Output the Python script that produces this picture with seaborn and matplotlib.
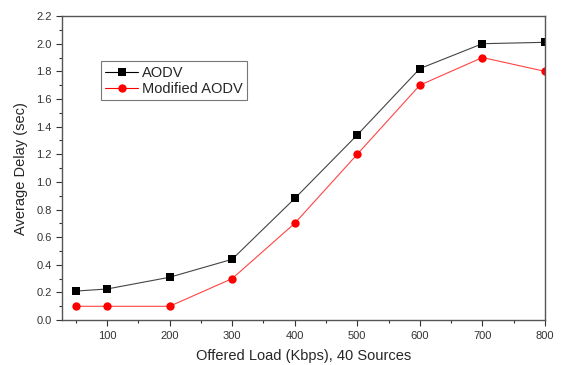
import matplotlib
matplotlib.use("Agg")
import matplotlib.pyplot as plt
import seaborn as sns
import pandas as pd
from matplotlib.ticker import MultipleLocator

load = [50, 100, 200, 300, 400, 500, 600, 700, 800]
aodv = [0.21, 0.225, 0.31, 0.44, 0.88, 1.34, 1.82, 2.0, 2.01]
mod_aodv = [0.1, 0.1, 0.1, 0.3, 0.7, 1.2, 1.7, 1.9, 1.8]

sns.set_theme(style="ticks")
plt.rcParams['font.family'] = ['Liberation Sans', 'DejaVu Sans']

df = pd.DataFrame({
    "load": load * 2,
    "delay": aodv + mod_aodv,
    "series": ["AODV"] * len(load) + ["Modified AODV"] * len(load),
})

fig = plt.figure(figsize=(5.63, 3.65), dpi=100)
ax = fig.add_axes([0.110, 0.123, 0.858, 0.833])

sns.lineplot(data=df, x="load", y="delay", hue="series", style="series",
             palette={"AODV": "black", "Modified AODV": "red"},
             markers={"AODV": "s", "Modified AODV": "o"},
             dashes=False, linewidth=0.8, markersize=6,
             markeredgewidth=0, ax=ax)
for ln, c in zip(ax.lines, ["#444444", "#ff4444"]):
    ln.set_color(c)
    ln.set_markerfacecolor("black" if c == "#444444" else "red")

ax.set_xlim(28, 800)
ax.set_ylim(0, 2.2)
ax.xaxis.set_major_locator(MultipleLocator(100))
ax.xaxis.set_minor_locator(MultipleLocator(50))
ax.yaxis.set_major_locator(MultipleLocator(0.2))
ax.yaxis.set_minor_locator(MultipleLocator(0.1))
ax.yaxis.set_major_formatter(matplotlib.ticker.FormatStrFormatter('%.1f'))
ax.tick_params(which='major', direction='out', length=4, width=0.8, labelsize=8, colors='#333333')
ax.tick_params(which='minor', direction='out', length=2.5, width=0.8, colors='#333333')
ax.set_xticks([100, 200, 300, 400, 500, 600, 700, 800])
for s in ax.spines.values():
    s.set_color('#555555')
    s.set_linewidth(1.0)

ax.set_xlabel("Offered Load (Kbps), 40 Sources", fontsize=10.5, labelpad=6)
ax.set_ylabel("Average Delay (sec)", fontsize=10.5, labelpad=6)

handles, labels = ax.get_legend_handles_labels()
leg = ax.legend(handles, labels, loc="upper left", bbox_to_anchor=(0.066, 0.875),
                frameon=True, fancybox=False, fontsize=10.5, handlelength=2.2,
                borderpad=0.3, labelspacing=0.15, handletextpad=0.3)
leg.get_frame().set_edgecolor('#555555')
leg.get_frame().set_linewidth(0.8)

fig.savefig("out.png", dpi=100)
